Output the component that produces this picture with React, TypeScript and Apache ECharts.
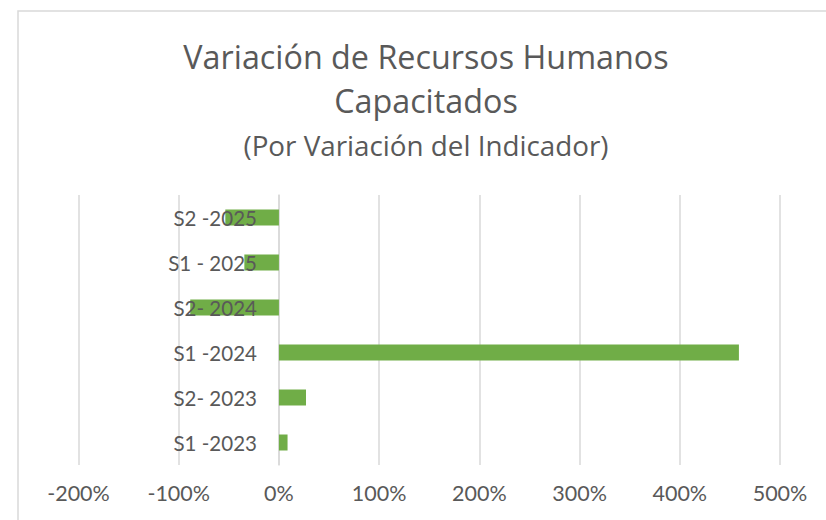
import React, { useEffect, useRef } from "react";
import * as echarts from "echarts";

const categories = ["S1 -2023", "S2- 2023", "S1 -2024", "S2- 2024", "S1 - 2025", "S2 -2025"];
const variation = [8.6, 27, 459, -88.5, -34.5, -53.5];
const labelAnchors = [0, 0, 0, 0, 0, 0];
const titleLines = ["Variación de Recursos Humanos", "Capacitados"];
const subtitle = "(Por Variación del Indicador)";

const FONT = "Lato, 'Noto Sans', sans-serif";
const TFONT = "'Open Sans', 'Noto Sans', sans-serif";
const GREY = "#595959";

export default function App() {
  const ref = useRef<HTMLDivElement>(null);
  useEffect(() => {
    if (!ref.current) return;
    const chart = echarts.init(ref.current, undefined, { renderer: "svg" });
    chart.setOption({
      animation: false,
      backgroundColor: "#ffffff",
      textStyle: { fontFamily: FONT },
      graphic: [
        {
          type: "rect",
          shape: { x: 18, y: 11, width: 830, height: 530 },
          style: { fill: "none", stroke: "#d9d9d9", lineWidth: 1.5 },
          silent: true,
        },
        {
          type: "text",
          style: { text: titleLines[0], x: 426, y: 56, align: "center", verticalAlign: "middle", fontSize: 32.3, fontFamily: TFONT, fill: GREY },
        },
        {
          type: "text",
          style: { text: titleLines[1], x: 426, y: 100, align: "center", verticalAlign: "middle", fontSize: 32.3, fontFamily: TFONT, fill: GREY },
        },
        {
          type: "text",
          style: { text: subtitle, x: 426, y: 145, align: "center", verticalAlign: "middle", fontSize: 27.8, fontFamily: TFONT, fill: GREY },
        },
      ],
      grid: { left: 78.5, right: 46, top: 195, bottom: 55, containLabel: false, outerBoundsMode: "none" },
      xAxis: {
        type: "value",
        min: -200,
        max: 500,
        interval: 100,
        axisLine: { show: false },
        axisTick: { show: false },
        axisLabel: { formatter: "{value}%", color: GREY, fontSize: 21.5, fontFamily: FONT, margin: 17 },
        splitLine: { show: true, lineStyle: { color: "#d9d9d9", width: 1.5 } },
      },
      yAxis: {
        type: "category",
        data: categories,
        axisLine: { show: true, onZero: true, lineStyle: { color: "#d9d9d9", width: 1.5 } },
        axisTick: { show: false },
        axisLabel: { show: false },
        splitLine: { show: false },
      },
      series: [
        {
          type: "bar",
          data: variation,
          barWidth: 16,
          itemStyle: { color: "#70ad47" },
        },
        {
          type: "bar",
          data: labelAnchors,
          barWidth: 16,
          barGap: "-100%",
          itemStyle: { color: "rgba(0,0,0,0)" },
          label: {
            show: true,
            position: "left",
            distance: 22,
            formatter: "{b}",
            color: GREY,
            fontSize: 20.5,
            fontFamily: FONT,
          },
          z: 5,
        },
      ],
    });
    return () => chart.dispose();
  }, []);
  return (
    <div style={{ position: "fixed", left: 0, top: 0, width: 826, height: 520, background: "#fff" }}>
      <div ref={ref} style={{ width: 826, height: 520 }} />
    </div>
  );
}
